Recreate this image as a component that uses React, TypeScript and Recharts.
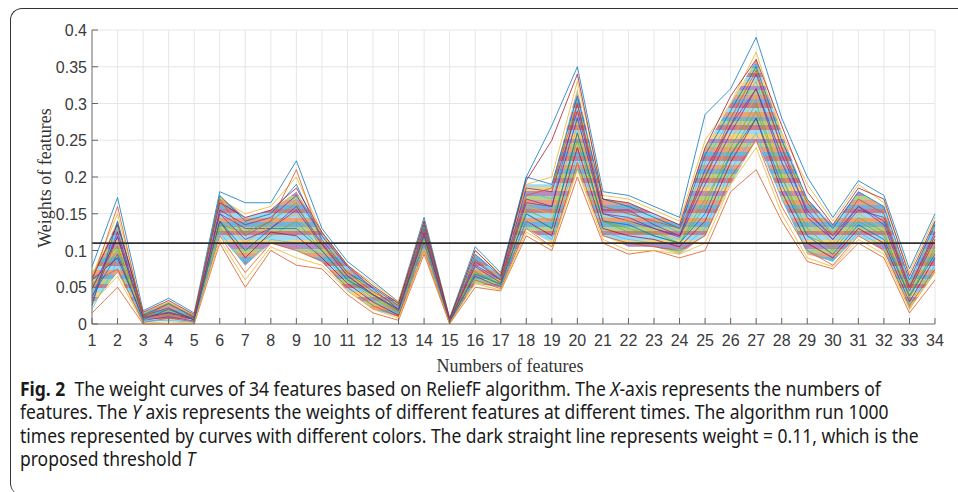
import { Line, Area, XAxis, YAxis, CartesianGrid, ReferenceLine, ComposedChart } from 'recharts'

const FEATURES = [1, 2, 3, 4, 5, 6, 7, 8, 9, 10, 11, 12, 13, 14, 15, 16, 17, 18, 19, 20, 21, 22, 23, 24, 25, 26, 27, 28, 29, 30, 31, 32, 33, 34]
const Y_TICKS = [0, 0.05, 0.1, 0.15, 0.2, 0.25, 0.3, 0.35, 0.4]
const THRESHOLD = 0.11

// dense core of the 1000 runs
const BAND_LOW = [0.025, 0.07, 0.002, 0.005, 0.002, 0.12, 0.08, 0.11, 0.1, 0.085, 0.045, 0.02, 0.01, 0.1, 0.001, 0.055, 0.05, 0.13, 0.11, 0.21, 0.12, 0.105, 0.105, 0.095, 0.12, 0.19, 0.25, 0.17, 0.095, 0.085, 0.12, 0.1, 0.02, 0.07]
const BAND_HIGH = [0.065, 0.14, 0.015, 0.03, 0.012, 0.175, 0.145, 0.155, 0.18, 0.125, 0.08, 0.05, 0.03, 0.14, 0.008, 0.095, 0.065, 0.19, 0.19, 0.32, 0.17, 0.165, 0.15, 0.135, 0.24, 0.3, 0.36, 0.26, 0.17, 0.135, 0.18, 0.16, 0.06, 0.14]

// a sample of individual runs
const RUN_01 = [0.078, 0.172, 0.018, 0.035, 0.015, 0.18, 0.165, 0.165, 0.222, 0.13, 0.085, 0.058, 0.03, 0.145, 0.008, 0.105, 0.07, 0.2, 0.27, 0.35, 0.18, 0.175, 0.16, 0.145, 0.285, 0.32, 0.39, 0.28, 0.2, 0.145, 0.195, 0.175, 0.075, 0.15]
const RUN_02 = [0.015, 0.05, 0, 0, 0, 0.11, 0.05, 0.1, 0.08, 0.075, 0.04, 0.015, 0.005, 0.095, 0, 0.05, 0.045, 0.12, 0.1, 0.2, 0.11, 0.095, 0.1, 0.09, 0.1, 0.18, 0.21, 0.14, 0.085, 0.075, 0.11, 0.09, 0.015, 0.06]
const RUN_03 = [0.065, 0.15, 0.015, 0.03, 0.012, 0.17, 0.15, 0.16, 0.2, 0.125, 0.08, 0.055, 0.03, 0.14, 0.007, 0.1, 0.068, 0.19, 0.2, 0.33, 0.175, 0.17, 0.155, 0.14, 0.25, 0.3, 0.37, 0.26, 0.19, 0.14, 0.19, 0.165, 0.07, 0.145]
const RUN_04 = [0.03, 0.12, 0.005, 0.01, 0.004, 0.15, 0.13, 0.13, 0.16, 0.11, 0.065, 0.04, 0.02, 0.125, 0.004, 0.08, 0.06, 0.17, 0.16, 0.3, 0.15, 0.14, 0.13, 0.12, 0.2, 0.27, 0.34, 0.24, 0.15, 0.12, 0.16, 0.14, 0.05, 0.12]
const RUN_05 = [0.05, 0.1, 0.01, 0.02, 0.008, 0.13, 0.1, 0.12, 0.14, 0.1, 0.06, 0.035, 0.015, 0.115, 0.003, 0.07, 0.055, 0.15, 0.13, 0.26, 0.14, 0.13, 0.12, 0.11, 0.16, 0.24, 0.3, 0.2, 0.13, 0.1, 0.14, 0.12, 0.04, 0.1]
const RUN_06 = [0.04, 0.13, 0.003, 0.025, 0.01, 0.16, 0.12, 0.14, 0.17, 0.12, 0.075, 0.045, 0.022, 0.13, 0.005, 0.09, 0.062, 0.18, 0.17, 0.28, 0.16, 0.15, 0.14, 0.125, 0.22, 0.28, 0.33, 0.22, 0.16, 0.125, 0.17, 0.15, 0.055, 0.13]
const RUN_07 = [0.06, 0.09, 0.008, 0.015, 0.006, 0.14, 0.09, 0.125, 0.12, 0.09, 0.055, 0.03, 0.012, 0.11, 0.002, 0.065, 0.05, 0.14, 0.12, 0.24, 0.13, 0.12, 0.115, 0.105, 0.14, 0.22, 0.28, 0.18, 0.11, 0.09, 0.13, 0.11, 0.03, 0.09]
const RUN_08 = [0.025, 0.14, 0.012, 0.028, 0.009, 0.175, 0.14, 0.15, 0.19, 0.115, 0.07, 0.05, 0.025, 0.135, 0.006, 0.095, 0.065, 0.2, 0.19, 0.31, 0.17, 0.16, 0.145, 0.13, 0.23, 0.29, 0.35, 0.25, 0.17, 0.13, 0.18, 0.16, 0.06, 0.135]
const RUN_09 = [0.055, 0.075, 0.002, 0.008, 0.003, 0.12, 0.07, 0.11, 0.1, 0.085, 0.05, 0.025, 0.01, 0.1, 0.001, 0.06, 0.048, 0.13, 0.105, 0.22, 0.12, 0.11, 0.105, 0.1, 0.12, 0.2, 0.25, 0.16, 0.1, 0.08, 0.12, 0.1, 0.025, 0.075]
const RUN_10 = [0.045, 0.11, 0.007, 0.018, 0.007, 0.145, 0.11, 0.135, 0.15, 0.105, 0.068, 0.042, 0.018, 0.12, 0.004, 0.075, 0.058, 0.16, 0.15, 0.27, 0.145, 0.14, 0.125, 0.115, 0.18, 0.25, 0.31, 0.21, 0.14, 0.11, 0.15, 0.13, 0.045, 0.11]
const RUN_11 = [0.035, 0.125, 0.011, 0.022, 0.005, 0.155, 0.135, 0.145, 0.175, 0.12, 0.078, 0.048, 0.02, 0.13, 0.003, 0.085, 0.06, 0.185, 0.18, 0.29, 0.155, 0.155, 0.135, 0.12, 0.21, 0.27, 0.32, 0.23, 0.155, 0.115, 0.155, 0.145, 0.05, 0.125]
const RUN_12 = [0.07, 0.105, 0.014, 0.012, 0.011, 0.135, 0.125, 0.14, 0.165, 0.1, 0.062, 0.038, 0.016, 0.118, 0.005, 0.072, 0.052, 0.155, 0.14, 0.25, 0.14, 0.125, 0.125, 0.11, 0.17, 0.23, 0.29, 0.2, 0.12, 0.105, 0.145, 0.125, 0.035, 0.105]
const RUN_13 = [0.02, 0.085, 0.004, 0.005, 0.002, 0.125, 0.08, 0.115, 0.11, 0.095, 0.058, 0.032, 0.014, 0.108, 0.002, 0.062, 0.05, 0.14, 0.115, 0.23, 0.125, 0.115, 0.11, 0.1, 0.13, 0.21, 0.26, 0.17, 0.1, 0.085, 0.125, 0.105, 0.028, 0.08]
const RUN_14 = [0.062, 0.135, 0.016, 0.032, 0.013, 0.165, 0.145, 0.155, 0.185, 0.125, 0.08, 0.052, 0.028, 0.14, 0.007, 0.1, 0.066, 0.195, 0.25, 0.34, 0.17, 0.165, 0.15, 0.135, 0.24, 0.31, 0.36, 0.27, 0.18, 0.135, 0.185, 0.17, 0.065, 0.14]
const RUN_15 = [0.038, 0.095, 0.006, 0.02, 0.006, 0.14, 0.1, 0.13, 0.13, 0.1, 0.06, 0.04, 0.02, 0.12, 0.003, 0.068, 0.054, 0.15, 0.13, 0.26, 0.14, 0.135, 0.12, 0.11, 0.15, 0.23, 0.28, 0.19, 0.12, 0.095, 0.135, 0.115, 0.038, 0.095]
const RUN_16 = [0.058, 0.16, 0.01, 0.027, 0.01, 0.17, 0.12, 0.14, 0.21, 0.11, 0.07, 0.044, 0.024, 0.128, 0.004, 0.088, 0.06, 0.175, 0.185, 0.3, 0.16, 0.15, 0.14, 0.13, 0.2, 0.28, 0.345, 0.24, 0.165, 0.12, 0.17, 0.15, 0.05, 0.12]
const RUN_17 = [0.028, 0.065, 0.001, 0.003, 0.001, 0.115, 0.06, 0.105, 0.09, 0.08, 0.045, 0.02, 0.008, 0.1, 0.001, 0.055, 0.046, 0.125, 0.105, 0.21, 0.115, 0.1, 0.1, 0.095, 0.11, 0.19, 0.24, 0.15, 0.09, 0.078, 0.115, 0.095, 0.02, 0.07]
const RUN_18 = [0.048, 0.118, 0.009, 0.016, 0.008, 0.15, 0.115, 0.13, 0.155, 0.108, 0.066, 0.04, 0.018, 0.122, 0.004, 0.078, 0.056, 0.165, 0.16, 0.28, 0.15, 0.145, 0.13, 0.118, 0.19, 0.26, 0.32, 0.22, 0.145, 0.115, 0.16, 0.135, 0.045, 0.115]

const RUNS = [RUN_01, RUN_02, RUN_03, RUN_04, RUN_05, RUN_06, RUN_07, RUN_08, RUN_09, RUN_10, RUN_11, RUN_12, RUN_13, RUN_14, RUN_15, RUN_16, RUN_17, RUN_18]
const COLORS = ['#0072BD', '#D95319', '#EDB120', '#7E2F8E', '#77AC30', '#4DBEEE', '#A2142F']

const PLOT_LEFT = 92
const PLOT_BOTTOM = 324

const data = FEATURES.map((f, i) => {
  const row: Record<string, any> = { f, band: [BAND_LOW[i], BAND_HIGH[i]] }
  RUNS.forEach((r, k) => { row['r' + k] = r[i] })
  return row
})

function XTick({ x, payload }: any) {
  return (
    <g>
      <line x1={x} x2={x} y1={PLOT_BOTTOM} y2={PLOT_BOTTOM - 6} stroke="#666" strokeWidth={1} />
      <text x={x} y={PLOT_BOTTOM + 22} textAnchor="middle" fontSize={16} fill="#3a3a3a"
        fontFamily="'Liberation Sans', Arial, sans-serif">{payload.value}</text>
    </g>
  )
}

function YTick({ y, payload }: any) {
  return (
    <g>
      <line x1={PLOT_LEFT} x2={PLOT_LEFT + 6} y1={y} y2={y} stroke="#666" strokeWidth={1} />
      <text x={PLOT_LEFT - 5} y={y + 6} textAnchor="end" fontSize={16} fill="#3a3a3a"
        fontFamily="'Liberation Sans', Arial, sans-serif">{String(payload.value)}</text>
    </g>
  )
}

// thin coloured stripes so the dense core reads like many overlapping runs
const STRIPE_SET = ['#D95319', '#0072BD', '#77AC30', '#A2142F', '#4DBEEE', '#EDB120', '#7E2F8E', '#77AC30', '#D95319', '#0072BD', '#A2142F', '#4DBEEE']
const STRIPE_COUNT = 60

export default function App() {
  return (
    <div style={{ position: 'absolute', left: 0, top: 0, width: 958, height: 492, background: '#fff', overflow: 'hidden' }}>
      {/* card frame */}
      <div style={{
        position: 'absolute', left: 10, top: 8, width: 960, height: 486,
        borderTop: '1.5px solid #333', borderLeft: '1.5px solid #333',
        borderTopLeftRadius: 12, borderBottomLeftRadius: 12,
      }} />

      <div style={{ position: 'absolute', left: 0, top: 0 }}>
        <ComposedChart width={958} height={360} data={data}
          margin={{ top: 30, right: 23, left: 32, bottom: 6 }}>
          <defs>
            <linearGradient id="core" x1="0" y1="0" x2="0" y2="1">
              {Array.from({ length: STRIPE_COUNT }).map((_, i) => {
                const c = STRIPE_SET[i % STRIPE_SET.length]
                return [
                  <stop key={i + 'a'} offset={i / STRIPE_COUNT} stopColor={c} />,
                  <stop key={i + 'b'} offset={(i + 1) / STRIPE_COUNT} stopColor={c} />,
                ]
              })}
            </linearGradient>
          </defs>
          <CartesianGrid stroke="#e6e6e6" strokeWidth={1} />
          <XAxis dataKey="f" type="number" domain={[1, 34]} ticks={FEATURES} interval={0}
            height={30} stroke="#777" tickLine={false} tickSize={0} tick={<XTick />} />
          <YAxis type="number" domain={[0, 0.4]} ticks={Y_TICKS} width={60}
            stroke="#777" tickLine={false} tickSize={0} tick={<YTick />} />
          <Area dataKey="band" type="linear" stroke="none" fill="url(#core)" fillOpacity={0.55}
            isAnimationActive={false} />
          {RUNS.map((_, k) => (
            <Line key={k} dataKey={'r' + k} type="linear" stroke={COLORS[k % COLORS.length]}
              strokeWidth={0.9} strokeOpacity={0.85} dot={false} activeDot={false} isAnimationActive={false} />
          ))}
          <ReferenceLine y={THRESHOLD} stroke="#2e2e2e" strokeWidth={1.6} />
        </ComposedChart>
      </div>

      {/* axis titles */}
      <div style={{
        position: 'absolute', left: 510, top: 366, transform: 'translate(-50%, -50%)',
        fontFamily: "'Liberation Serif', 'Times New Roman', serif", fontSize: 18, color: '#333', whiteSpace: 'nowrap',
      }}>Numbers of features</div>
      <div style={{
        position: 'absolute', left: 45, top: 178, transform: 'translate(-50%, -50%) rotate(-90deg)',
        fontFamily: "'Liberation Serif', 'Times New Roman', serif", fontSize: 18, color: '#333', whiteSpace: 'nowrap',
      }}>Weights of features</div>

      {/* caption, condensed like the journal face */}
      <div style={{
        position: 'absolute', left: 20, top: 378, lineHeight: '23.4px', fontSize: 19, color: '#1a1a1a',
        fontFamily: "'Noto Sans', sans-serif", whiteSpace: 'nowrap',
        transform: 'scaleX(0.92)', transformOrigin: 'left top',
      }}>
        <div><b>Fig. 2</b>&nbsp; The weight curves of 34 features based on ReliefF algorithm. The <i>X</i>-axis represents the numbers of</div>
        <div>features. The <i>Y</i> axis represents the weights of different features at different times. The algorithm run 1000</div>
        <div>times represented by curves with different colors. The dark straight line represents weight = 0.11, which is the</div>
        <div>proposed threshold <i>T</i></div>
      </div>
    </div>
  )
}
